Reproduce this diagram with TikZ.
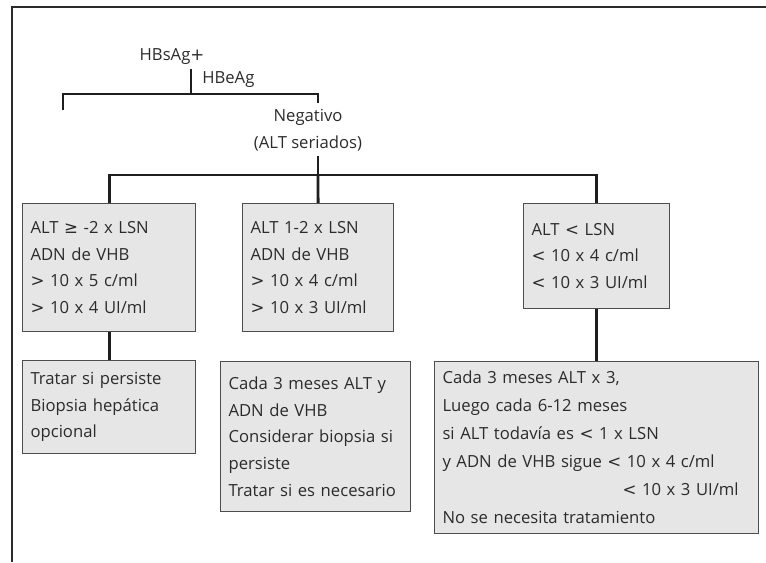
\documentclass[tikz,border=0pt]{standalone}
\usepackage{fontspec}
\setmainfont{Open Sans}
\newfontfamily\symfont{DejaVu Sans}
\newcommand{\LT}{{\symfont <}}
\newcommand{\GT}{{\symfont >}}
\newcommand{\GE}{{\symfont ≥}}
\definecolor{txtc}{HTML}{2B2B2B}
\definecolor{boxfill}{HTML}{E6E6E6}
\definecolor{boxline}{HTML}{4D4D4D}
\definecolor{connc}{HTML}{1E1E1E}
\begin{document}
\begin{tikzpicture}[x=0.75pt,y=-0.75pt,
  txt/.style={text=txtc, font=\fontsize{12.5}{20}\selectfont},
  box/.style={txt, draw=boxline, line width=0.8pt, fill=boxfill, anchor=north west,
    align=left, inner xsep=6pt, inner ysep=0pt},
  conn/.style={draw=connc, line width=2.2pt},
  frame/.style={draw=txtc, line width=1.1pt}]
\useasboundingbox (0,0) rectangle (766,562);
\draw[frame] (12,562) -- (12,7) -- (766,7);

% labels
\node[txt, anchor=base, inner sep=0pt] (hbs) at (172,60) {HBsAg{\symfont +}};
\node[txt, anchor=base west, inner sep=0pt] (hbe) at (202,83) {HBeAg};
\node[txt, align=center, anchor=north, inner sep=0pt] (neg) at (308,109) {Negativo\\(ALT seriados)};

% boxes
\node[box, minimum width=129.75pt, minimum height=96pt, text width=117.75pt] (b1) at (22,203)
  {ALT \GE{} -2 x LSN\\ADN de VHB\\\GT{} 10 x 5 c/ml\\\GT{} 10 x 4 UI/ml};
\node[box, minimum width=113.25pt, minimum height=96pt, text width=101.25pt] (b2) at (242,203)
  {ALT 1-2 x LSN\\ADN de VHB\\\GT{} 10 x 4 c/ml\\\GT{} 10 x 3 UI/ml};
\node[box, minimum width=109.5pt, minimum height=78.75pt, text width=97.5pt] (b3) at (523,203)
  {ALT \LT{} LSN\\\LT{} 10 x 4 c/ml\\\LT{} 10 x 3 UI/ml};
\node[box, minimum width=129.75pt, minimum height=69.75pt, text width=117.75pt] (c1) at (22,360)
  {Tratar si persiste\\Biopsia hepática\\opcional};
\node[box, minimum width=142.5pt, minimum height=112.5pt, text width=130.5pt] (c2) at (220,361)
  {\mbox{Cada 3 meses ALT y}\\ADN de VHB\\\mbox{Considerar biopsia si}\\persiste\\\mbox{Tratar si es necesario}};
\node[box, minimum width=243pt, minimum height=129pt, text width=231pt,
  font=\fontsize{12.5}{21}\selectfont] (c3) at (434,361)
  {Cada 3 meses ALT x 3,\\Luego cada 6-12 meses\\si ALT todavía es \LT{} 1 x LSN\\y ADN de VHB sigue \LT{} 10 x 4 c/ml\\\hspace*{135pt}\LT{} 10 x 3 UI/ml\\No se necesita tratamiento};

% connectors
\coordinate (tick) at (191,69);
\coordinate (j1) at (191,94);
\coordinate (lend) at (63,110);
\coordinate (rend) at (318,103);
\coordinate (nbot) at (318,156);
\coordinate (j2) at (318,175);
\draw[conn] (tick) -- (j1);
\draw[conn] (lend) -- (lend |- j1) -- (rend |- j1) -- (rend);
\draw[conn] (nbot) -- (j2);
\draw[conn] (b1.north) |- (j2) -| (b3.north);
\draw[conn] (j2) -- (b2.north);
\draw[conn] (b1.south) -- (c1.north);
\draw[conn] (b3.south) -- (c3.north);
\end{tikzpicture}
\end{document}
